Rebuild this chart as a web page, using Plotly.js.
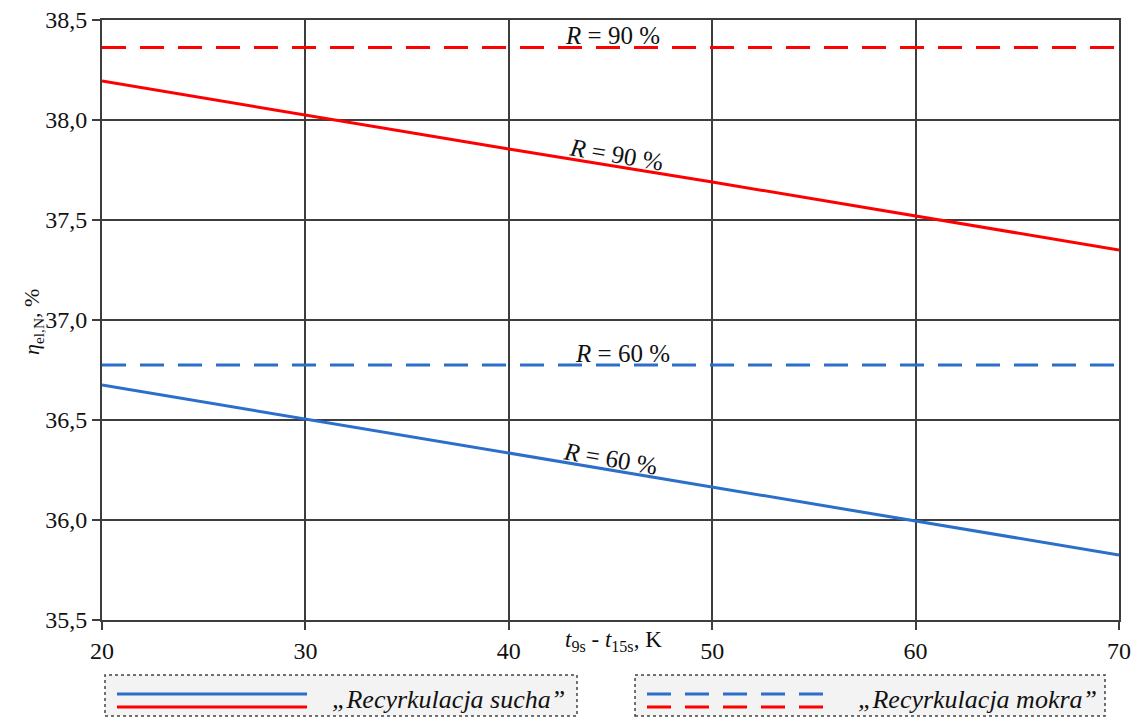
<!DOCTYPE html>
<html>
<head>
<meta charset="utf-8">
<script src="https://cdn.plot.ly/plotly-3.0.1.min.js"></script>
<style>html,body{margin:0;padding:0;background:#fff;}#chart{width:1139px;height:717px;}</style>
</head>
<body>
<div id="chart"></div>
<script>
// ---- data ----
const xValues = [20, 30, 40, 50, 60, 70];
const suchaR90 = [38.195, 38.025, 37.855, 37.69, 37.52, 37.35];
const suchaR60 = [36.675, 36.505, 36.335, 36.165, 35.995, 35.825];
const mokraR90 = [38.363, 38.363, 38.363, 38.363, 38.363, 38.363];
const mokraR60 = [36.775, 36.775, 36.775, 36.775, 36.775, 36.775];
const yTicks = [35.5, 36.0, 36.5, 37.0, 37.5, 38.0, 38.5];
const xTicks = [20, 30, 40, 50, 60, 70];
const legendLabels = ['\u201eRecyrkulacja sucha\u201d', '\u201eRecyrkulacja mokra\u201d'];
const curveLabels = ['<i>R</i> = 90 %', '<i>R</i> = 60 %'];

const RED = '#ff0000';
const BLUE = '#2b6fca';
const GRID = '#3d3d3d';
const FONT = 'Liberation Serif';

// layout geometry
const W = 1139, H = 717;
const M = {l: 102, r: 20, t: 20, b: 97};
const PW = W - M.l - M.r, PH = H - M.t - M.b;
const px = x => (x - M.l) / PW;
const py = y => (H - M.b - y) / PH;

const dash = '24px,14px';
const traces = [
  {x: xValues, y: suchaR90, mode: 'lines', line: {color: RED, width: 3}, name: 'sucha R90'},
  {x: xValues, y: suchaR60, mode: 'lines', line: {color: BLUE, width: 3}, name: 'sucha R60'},
  {x: xValues, y: mokraR90, mode: 'lines', line: {color: RED, width: 3, dash: dash}, name: 'mokra R90'},
  {x: xValues, y: mokraR60, mode: 'lines', line: {color: BLUE, width: 3, dash: dash}, name: 'mokra R60'}
];

const shapes = [];
const annotations = [];

// legend boxes
function legendBox(x0, x1, y0, y1) {
  shapes.push({type: 'rect', xref: 'paper', yref: 'paper', x0: px(x0), x1: px(x1), y0: py(y1), y1: py(y0),
    fillcolor: '#f3f3f3', line: {color: '#444', width: 1.5, dash: 'dot'}, layer: 'above'});
}
legendBox(105, 577, 675, 716);
legendBox(635, 1105, 675, 716);
function legendLine(x0, x1, y, color, d) {
  shapes.push({type: 'line', xref: 'paper', yref: 'paper', x0: px(x0), x1: px(x1), y0: py(y), y1: py(y),
    line: {color: color, width: 3, dash: d}, layer: 'above'});
}
legendLine(117, 307, 694, BLUE, 'solid');
legendLine(117, 307, 707, RED, 'solid');
legendLine(647, 825, 694, BLUE, '24px,14px');
legendLine(647, 825, 707, RED, '24px,14px');

annotations.push({xref: 'paper', yref: 'paper', x: px(448), y: py(699), text: '<i>' + legendLabels[0] + '</i>', showarrow: false,
  font: {family: FONT, size: 26, color: '#111'}, xanchor: 'center', yanchor: 'middle'});
annotations.push({xref: 'paper', yref: 'paper', x: px(977), y: py(699), text: '<i>' + legendLabels[1] + '</i>', showarrow: false,
  font: {family: FONT, size: 26, color: '#111'}, xanchor: 'center', yanchor: 'middle'});

// curve labels
const lblFont = {family: FONT, size: 25, color: '#111'};
annotations.push({x: 45.1, y: 38.425, text: curveLabels[0], showarrow: false, font: lblFont});
annotations.push({x: 45.3, y: 37.83, text: curveLabels[0], showarrow: false, font: lblFont, textangle: 9.4});
annotations.push({x: 45.6, y: 36.835, text: curveLabels[1], showarrow: false, font: lblFont});
annotations.push({x: 45.0, y: 36.31, text: curveLabels[1], showarrow: false, font: lblFont, textangle: 9.5});

// axis titles
annotations.push({xref: 'paper', yref: 'paper', x: px(613), y: py(657), text: '<i>t</i><sub>9s</sub> - <i>t</i><sub>15s</sub>, K',
  showarrow: false, font: {family: FONT, size: 23, color: '#111'}});
annotations.push({xref: 'paper', yref: 'paper', x: px(17), y: py(322), text: '<i>\u03b7</i><sub>el,N</sub>, %',
  showarrow: false, textangle: -90, font: {family: FONT, size: 22, color: '#111'}});

const axisCommon = {
  showgrid: true, gridcolor: GRID, gridwidth: 2,
  showline: true, linecolor: GRID, linewidth: 2, mirror: true,
  ticks: 'outside', ticklen: 8, tickwidth: 2, tickcolor: GRID,
  zeroline: false, tickfont: {family: FONT, size: 24, color: '#111'}
};

const layout = {
  width: W, height: H,
  margin: M,
  font: {family: FONT, color: '#111'},
  paper_bgcolor: '#fff', plot_bgcolor: '#fff',
  separators: ', ',
  showlegend: false,
  xaxis: Object.assign({}, axisCommon, {range: [20, 70], tickvals: xTicks, ticktext: xTicks.map(String)}),
  yaxis: Object.assign({}, axisCommon, {range: [35.5, 38.5], tickvals: yTicks, tickformat: '.1f'}),
  shapes: shapes,
  annotations: annotations
};

Plotly.newPlot('chart', traces, layout, {displayModeBar: false});
</script>
</body>
</html>
